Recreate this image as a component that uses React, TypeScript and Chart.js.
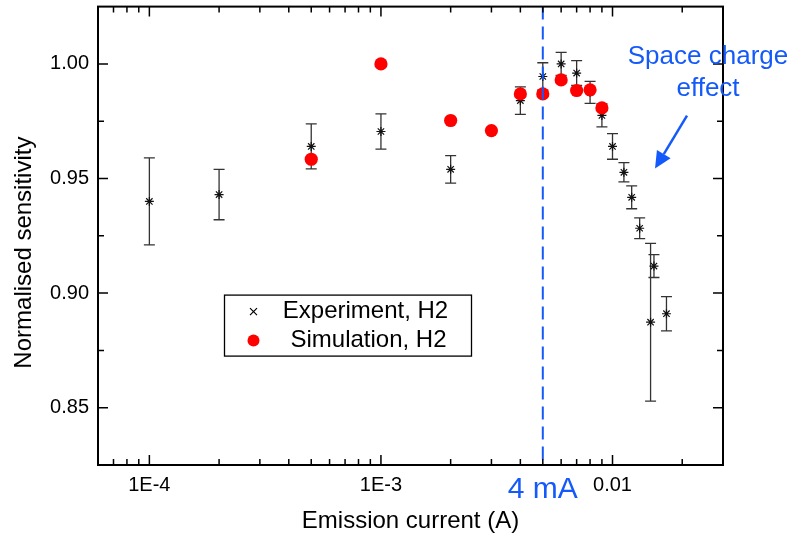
import React, { useEffect, useRef } from 'react';
import { Chart, registerables } from 'chart.js';

Chart.register(...registerables);

// ---- data ----
const expCurrent = [1e-4, 2e-4, 5e-4, 1e-3, 2e-3, 4e-3, 5e-3, 6e-3, 7e-3, 8e-3, 9e-3, 0.01, 0.0112, 0.0121, 0.0131, 0.0151, 0.0146, 0.0171];
const expSensitivity = [0.940, 0.943, 0.964, 0.9705, 0.954, 0.984, 0.9945, 1.000, 0.996, 0.9876, 0.9775, 0.964, 0.9527, 0.9418, 0.9283, 0.9118, 0.8873, 0.891];
const expError = [0.019, 0.011, 0.0098, 0.0077, 0.006, 0.006, 0.006, 0.005, 0.0054, 0.0048, 0.005, 0.0056, 0.0042, 0.005, 0.0045, 0.005, 0.0344, 0.0075];

const simCurrent = [5e-4, 1e-3, 2e-3, 3e-3, 4e-3, 5e-3, 6e-3, 7e-3, 8e-3, 9e-3];
const simSensitivity = [0.9584, 1.000, 0.9753, 0.9709, 0.9869, 0.9869, 0.993, 0.9884, 0.9887, 0.9808];

const xRange = [6e-5, 0.03];
const yRange = [0.825, 1.025];
const xTickValues = [1e-4, 1e-3, 1e-2];
const xTickLabels = ['1E-4', '1E-3', '0.01'];
const xMinorTicks = [7e-5, 8e-5, 9e-5, 2e-4, 3e-4, 4e-4, 5e-4, 6e-4, 7e-4, 8e-4, 9e-4, 2e-3, 3e-3, 4e-3, 5e-3, 6e-3, 7e-3, 8e-3, 9e-3, 2e-2];
const yTickValues = [0.85, 0.9, 0.95, 1.0];
const yTickLabels = ['0.85', '0.90', '0.95', '1.00'];
const yMinorTicks = [0.875, 0.925, 0.975];

const markerCurrent = 0.005;
const markerLabel = '4 mA';
const annotationLines = ['Space charge', 'effect'];
const legendLabels = ['Experiment, H2', 'Simulation, H2'];
const xTitle = 'Emission current (A)';
const yTitle = 'Normalised sensitivity';

const FONT = '"Liberation Sans", Arial, Helvetica, sans-serif';
const BLUE = 'rgb(20,90,250)';

const decorPlugin = {
  id: 'decor',
  beforeDatasetsDraw(chart: any) {
    const { ctx, scales } = chart;
    const x = scales.x, y = scales.y;
    ctx.save();
    ctx.strokeStyle = '#333';
    ctx.lineWidth = 1.3;
    expCurrent.forEach((c, i) => {
      const px = x.getPixelForValue(c);
      const top = y.getPixelForValue(expSensitivity[i] + expError[i]);
      const bot = y.getPixelForValue(expSensitivity[i] - expError[i]);
      ctx.beginPath();
      ctx.moveTo(px, top);
      ctx.lineTo(px, bot);
      ctx.moveTo(px - 5.5, top);
      ctx.lineTo(px + 5.5, top);
      ctx.moveTo(px - 5.5, bot);
      ctx.lineTo(px + 5.5, bot);
      ctx.stroke();
    });
    ctx.restore();
  },
  afterDatasetsDraw(chart: any) {
    const { ctx, scales, chartArea: ca } = chart;
    const x = scales.x, y = scales.y;
    ctx.save();

    // dashed marker line
    const mx = x.getPixelForValue(markerCurrent);
    ctx.strokeStyle = BLUE;
    ctx.lineWidth = 2;
    ctx.setLineDash([13, 7]);
    ctx.beginPath();
    ctx.moveTo(mx, ca.top);
    ctx.lineTo(mx, ca.bottom);
    ctx.stroke();
    ctx.setLineDash([]);

    // frame
    ctx.strokeStyle = '#000';
    ctx.lineWidth = 2;
    ctx.strokeRect(ca.left, ca.top, ca.right - ca.left, ca.bottom - ca.top);

    // inward ticks
    ctx.lineWidth = 1.5;
    const major = 10, minor = 6;
    ctx.beginPath();
    const xt = (v: number, len: number) => {
      const p = x.getPixelForValue(v);
      ctx.moveTo(p, ca.bottom); ctx.lineTo(p, ca.bottom - len);
      ctx.moveTo(p, ca.top); ctx.lineTo(p, ca.top + len);
    };
    const yt = (v: number, len: number) => {
      const p = y.getPixelForValue(v);
      ctx.moveTo(ca.left, p); ctx.lineTo(ca.left + len, p);
      ctx.moveTo(ca.right, p); ctx.lineTo(ca.right - len, p);
    };
    xTickValues.forEach(v => xt(v, major));
    xMinorTicks.forEach(v => xt(v, minor));
    yTickValues.forEach(v => yt(v, major));
    yMinorTicks.forEach(v => yt(v, minor));
    ctx.stroke();

    // y title
    ctx.fillStyle = '#000';
    ctx.font = `24px ${FONT}`;
    ctx.textAlign = 'center';
    ctx.textBaseline = 'middle';
    ctx.save();
    ctx.translate(24, ca.top + 246);
    ctx.rotate(-Math.PI / 2);
    ctx.fillText(yTitle, 0, 0);
    ctx.restore();

    // legend
    const lx = ca.left + 126.5, ly = ca.top + 288.5;
    ctx.fillStyle = '#fff';
    ctx.fillRect(lx, ly, 247, 61);
    ctx.strokeStyle = '#000';
    ctx.lineWidth = 1.3;
    ctx.strokeRect(lx, ly, 247, 61);
    const mkx = lx + 29;
    ctx.lineWidth = 1.2;
    ctx.beginPath();
    ctx.moveTo(mkx - 3.5, ly + 13); ctx.lineTo(mkx + 3.5, ly + 20);
    ctx.moveTo(mkx + 3.5, ly + 13); ctx.lineTo(mkx - 3.5, ly + 20);
    ctx.stroke();
    ctx.fillStyle = 'red';
    ctx.beginPath();
    ctx.arc(mkx, ly + 45.5, 6, 0, Math.PI * 2);
    ctx.fill();
    ctx.fillStyle = '#000';
    ctx.font = `24px ${FONT}`;
    ctx.textAlign = 'center';
    ctx.textBaseline = 'middle';
    ctx.fillText(legendLabels[0], lx + 141, ly + 16);
    ctx.fillText(legendLabels[1], lx + 144, ly + 45);

    // annotation text
    ctx.fillStyle = BLUE;
    ctx.font = `26px ${FONT}`;
    ctx.textAlign = 'center';
    ctx.textBaseline = 'alphabetic';
    const ax = ca.left + 610;
    ctx.fillText(annotationLines[0], ax, ca.top + 57);
    ctx.fillText(annotationLines[1], ax, ca.top + 89);

    // arrow
    const x0 = ca.left + 589, y0 = ca.top + 109;
    const x1 = ca.left + 557, y1 = ca.top + 162;
    const ang = Math.atan2(y1 - y0, x1 - x0);
    const hl = 17, hw = 8;
    const bx = x1 - hl * Math.cos(ang), by = y1 - hl * Math.sin(ang);
    ctx.strokeStyle = BLUE;
    ctx.lineWidth = 2.5;
    ctx.beginPath();
    ctx.moveTo(x0, y0);
    ctx.lineTo(bx, by);
    ctx.stroke();
    ctx.beginPath();
    ctx.moveTo(x1, y1);
    ctx.lineTo(bx + hw * Math.sin(ang), by - hw * Math.cos(ang));
    ctx.lineTo(bx - hw * Math.sin(ang), by + hw * Math.cos(ang));
    ctx.closePath();
    ctx.fill();

    // 4 mA label
    ctx.font = `30px ${FONT}`;
    ctx.textAlign = 'center';
    ctx.textBaseline = 'alphabetic';
    ctx.fillText(markerLabel, mx, ca.bottom + 33);

    ctx.restore();
  },
};

export default function App() {
  const ref = useRef<HTMLCanvasElement | null>(null);
  useEffect(() => {
    if (!ref.current) return;
    const chart = new Chart(ref.current, {
      type: 'scatter',
      data: {
        datasets: [
          {
            label: legendLabels[0],
            data: expCurrent.map((c, i) => ({ x: c, y: expSensitivity[i] })),
            pointStyle: 'star',
            radius: 4.5,
            borderColor: '#111',
            backgroundColor: 'rgba(0,0,0,0)',
            borderWidth: 1.2,
            showLine: false,
            order: 2,
          },
          {
            label: legendLabels[1],
            data: simCurrent.map((c, i) => ({ x: c, y: simSensitivity[i] })),
            pointStyle: 'circle',
            radius: 6.6,
            borderWidth: 0,
            backgroundColor: 'rgb(255,0,0)',
            borderColor: 'rgb(255,0,0)',
            showLine: false,
            order: 1,
          },
        ],
      },
      options: {
        responsive: false,
        animation: false,
        events: [],
        layout: { padding: { top: 6, right: 71, left: 0, bottom: 0 } },
        plugins: { legend: { display: false }, tooltip: { enabled: false } },
        scales: {
          x: {
            type: 'logarithmic',
            min: xRange[0],
            max: xRange[1],
            grid: { display: false, drawTicks: false },
            border: { display: false },
            afterBuildTicks: (s: any) => {
              s.ticks = xTickValues.map(v => ({ value: v }));
            },
            ticks: {
              autoSkip: false,
              maxRotation: 0,
              minRotation: 0,
              padding: 8,
              color: '#000',
              font: { size: 20, family: FONT },
              callback: (v: any) => {
                const i = xTickValues.findIndex(t => Math.abs(t - v) / t < 1e-6);
                return i >= 0 ? xTickLabels[i] : '';
              },
            },
            title: {
              display: true,
              text: xTitle,
              color: '#000',
              font: { size: 24, family: FONT },
              padding: { top: 0, bottom: 0 },
            },
            afterFit: (s: any) => {
              s.height = 71;
              s.paddingLeft = 0; s.paddingRight = 0; s.paddingTop = 0; s.paddingBottom = 0;
            },
          },
          y: {
            type: 'linear',
            min: yRange[0],
            max: yRange[1],
            grid: { display: false, drawTicks: false },
            border: { display: false },
            afterBuildTicks: (s: any) => {
              s.ticks = yTickValues.map(v => ({ value: v }));
            },
            ticks: {
              autoSkip: false,
              padding: 9,
              color: '#000',
              font: { size: 20, family: FONT },
              callback: (v: any) => {
                const i = yTickValues.findIndex(t => Math.abs(t - v) < 1e-9);
                return i >= 0 ? yTickLabels[i] : '';
              },
            },
            afterFit: (s: any) => {
              s.width = 98;
              s.paddingLeft = 0; s.paddingRight = 0; s.paddingTop = 0; s.paddingBottom = 0;
            },
          },
        },
      } as any,
      plugins: [decorPlugin],
    });
    return () => chart.destroy();
  }, []);
  return (
    <div style={{ position: 'absolute', left: 0, top: 0, width: 794, height: 536, background: '#fff' }}>
      <canvas ref={ref} width={794} height={536} style={{ display: 'block' }} />
    </div>
  );
}
